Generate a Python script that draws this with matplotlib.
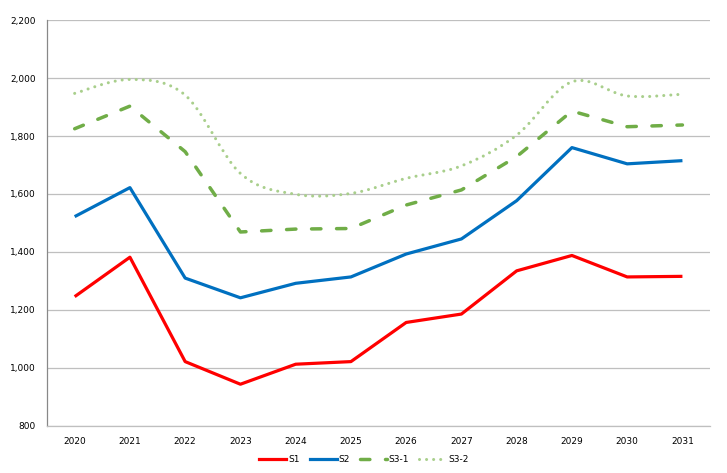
import matplotlib
matplotlib.use("Agg")
import matplotlib.pyplot as plt
from matplotlib.path import Path
from matplotlib.patches import PathPatch
from matplotlib.lines import Line2D
from matplotlib.ticker import FuncFormatter

years = [2020, 2021, 2022, 2023, 2024, 2025, 2026, 2027, 2028, 2029, 2030, 2031]
s1 = [1246, 1382, 1022, 944, 1013, 1022, 1157, 1186, 1335, 1388, 1314, 1316]
s2 = [1522, 1622, 1310, 1242, 1292, 1314, 1393, 1445, 1577, 1760, 1704, 1715]
s3_1 = [1825, 1903, 1746, 1469, 1479, 1481, 1562, 1614, 1729, 1886, 1832, 1838]
s3_2 = [1947, 1995, 1941, 1671, 1599, 1602, 1654, 1697, 1803, 1987, 1938, 1944]
y_ticks = [800, 1000, 1200, 1400, 1600, 1800, 2000, 2200]

RED = "#FF0000"
BLUE = "#0070C0"
GREEN = "#70AD47"
LGREEN = "#A9CF8C"

fig = plt.figure(figsize=(7.27, 4.73), dpi=100)
ax = fig.add_axes([0.0647, 0.0994, 0.912, 0.8583])

x = list(range(len(years)))
lw = 2.3
dash_lw = 2.5
dash_pat = (2.7, 4.5)
dot_lw = 2.2
dot_pat = (0, (0.01, 2.3))

ax.plot(x, s1, color=RED, lw=lw, solid_capstyle="butt", zorder=3)
ax.plot(x, s2, color=BLUE, lw=lw, solid_capstyle="butt", zorder=3)
ax.plot(x, s3_1, color=GREEN, lw=dash_lw, dashes=dash_pat, dash_capstyle="round", zorder=3)

# smoothed dotted series (Excel-style smoothing through the data points)
pts = list(zip(x, s3_2))
verts = [pts[0]]
codes = [Path.MOVETO]
n = len(pts)
for i in range(n - 1):
    p0 = pts[i - 1] if i > 0 else pts[i]
    p1 = pts[i]
    p2 = pts[i + 1]
    p3 = pts[i + 2] if i + 2 < n else pts[i + 1]
    c1 = (p1[0] + (p2[0] - p0[0]) / 6, p1[1] + (p2[1] - p0[1]) / 6)
    c2 = (p2[0] - (p3[0] - p1[0]) / 6, p2[1] - (p3[1] - p1[1]) / 6)
    verts += [c1, c2, p2]
    codes += [Path.CURVE4, Path.CURVE4, Path.CURVE4]
patch = PathPatch(Path(verts, codes), facecolor="none", edgecolor=LGREEN, lw=dot_lw,
                  linestyle=dot_pat, capstyle="round", zorder=3)
ax.add_patch(patch)

ax.set_xlim(-0.5, len(years) - 0.5)
ax.set_ylim(800, 2200)
ax.set_xticks(x)
ax.set_xticklabels([str(y) for y in years])
ax.set_yticks(y_ticks)
ax.yaxis.set_major_formatter(FuncFormatter(lambda v, p: f"{int(v):,}"))
ax.tick_params(axis="both", length=0, labelsize=6.5, colors="#000000")
ax.tick_params(axis="y", pad=8)
ax.tick_params(axis="x", pad=8)

ax.grid(axis="y", color="#BFBFBF", lw=0.9, zorder=0)
ax.set_axisbelow(True)
for s in ["top", "right"]:
    ax.spines[s].set_visible(False)
ax.spines["left"].set_color("#888888")
ax.spines["bottom"].set_color("#BFBFBF")
ax.spines["left"].set_linewidth(0.9)
ax.spines["bottom"].set_linewidth(0.9)

handles = [
    Line2D([], [], color=RED, lw=lw),
    Line2D([], [], color=BLUE, lw=lw),
    Line2D([], [], color=GREEN, lw=dash_lw, dashes=dash_pat, dash_capstyle="round"),
    Line2D([], [], color=LGREEN, lw=dot_lw, linestyle=dot_pat, dash_capstyle="round"),
]
ax.legend(handles, ["S1", "S2", "S3-1", "S3-2"], loc="upper center",
          bbox_to_anchor=(0.478, -0.052), ncol=4, frameon=False, fontsize=6.5,
          handlelength=3.0, handletextpad=0.2, columnspacing=1.1)

fig.savefig("out.png", dpi=100)
